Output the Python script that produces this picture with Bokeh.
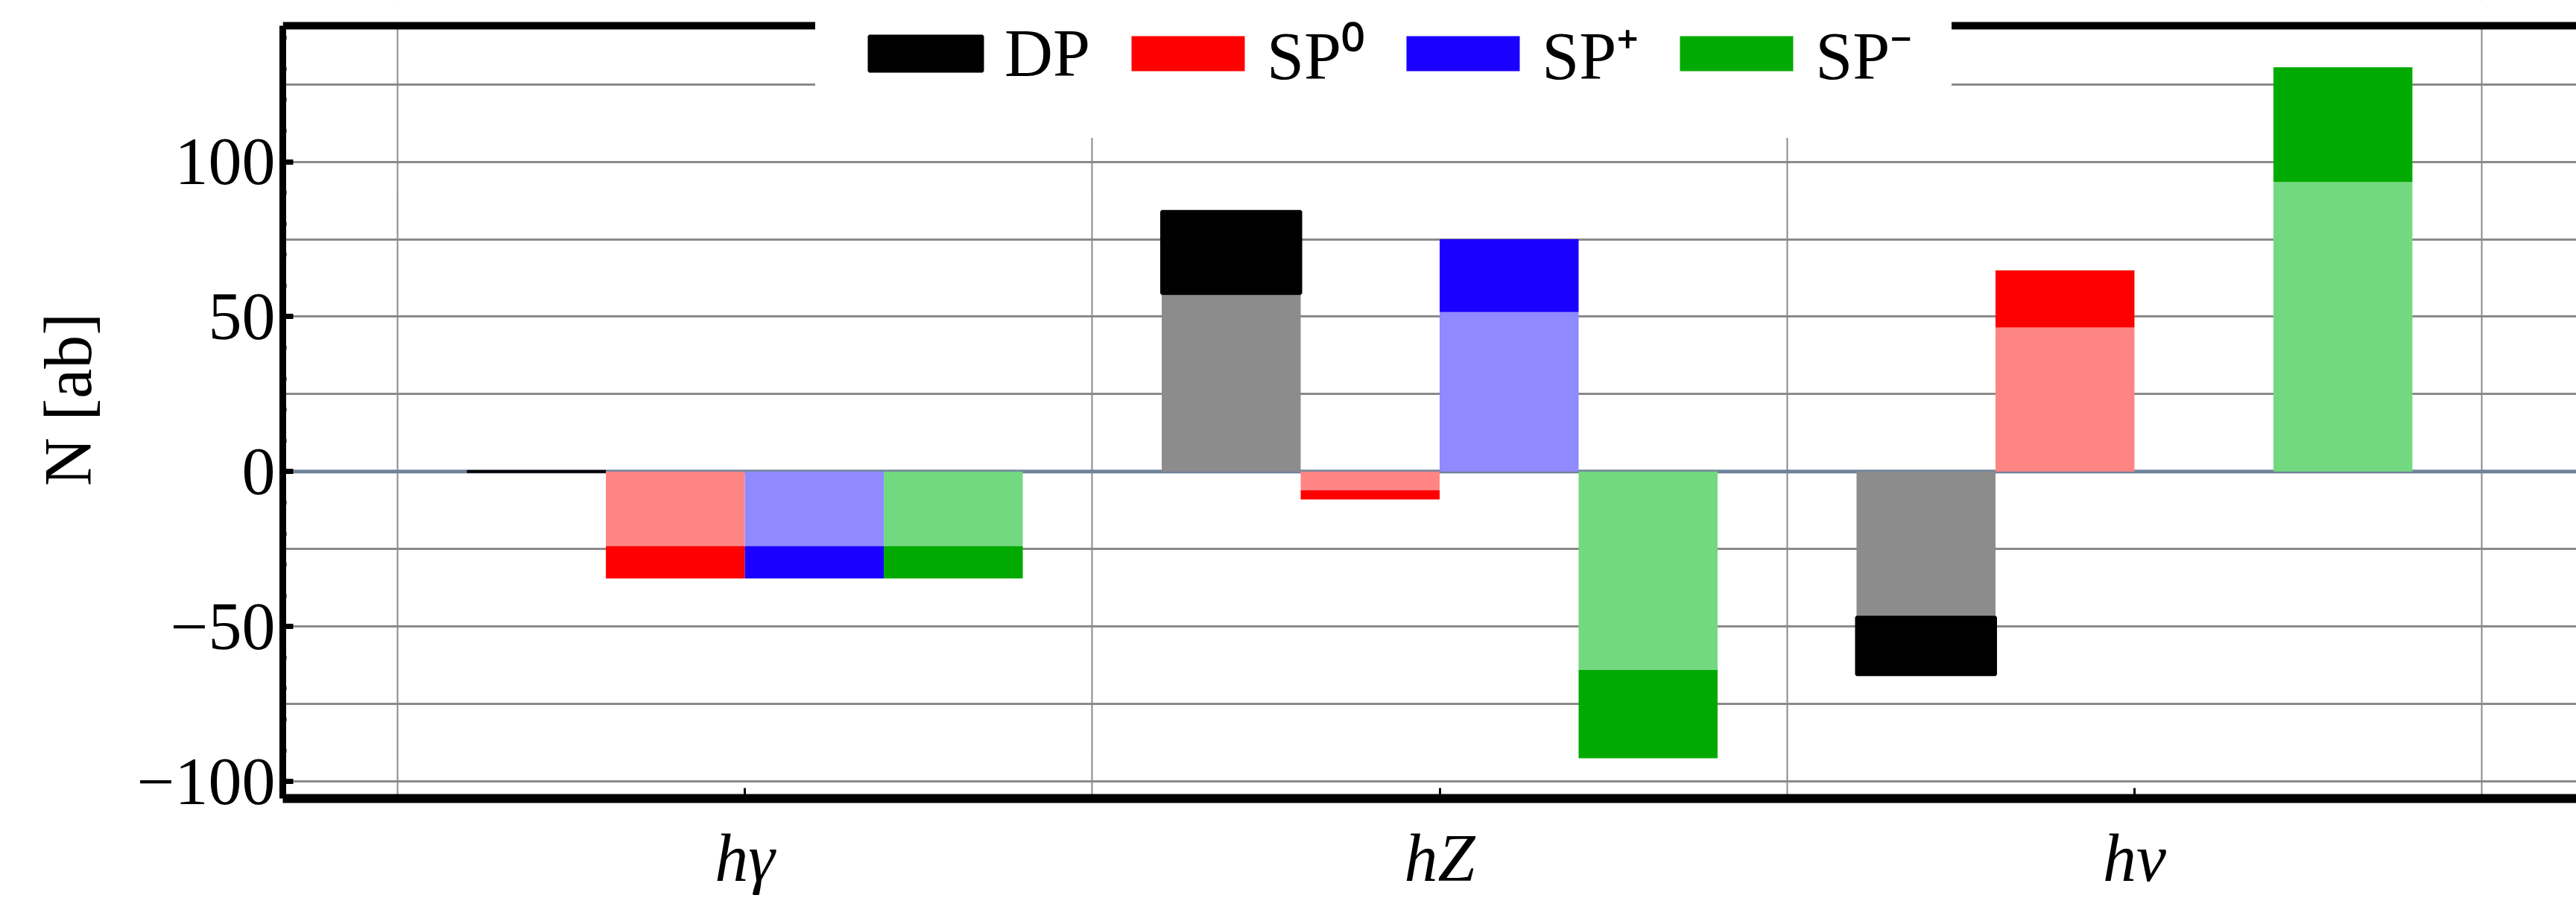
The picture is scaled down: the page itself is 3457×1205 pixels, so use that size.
from bokeh.plotting import figure
from bokeh.models import (Range1d, FixedTicker, SingleIntervalTicker,
                          Span, BoxAnnotation, Legend, LegendItem)
from bokeh.embed import file_html
from bokeh.resources import INLINE

# ---- data ----
categories = ["hγ", "hZ", "hν"]
series = ["DP", "SP⁰", "SP⁺", "SP⁻"]

dp_inner = [0, 57.5, -47]
dp_total = [0, 84, -65.5]
sp0_inner = [-24, -6, 46.5]
sp0_total = [-34.5, -9, 65]
spp_inner = [-24, 51.5, 0]
spp_total = [-34.5, 75, 0]
spm_inner = [-24, -64, 93.5]
spm_total = [-34.5, -92.5, 130.5]

inner_values = [dp_inner, sp0_inner, spp_inner, spm_inner]
total_values = [dp_total, sp0_total, spp_total, spm_total]

y_tick_labels = {-100: "−100", -50: "−50", 0: "0", 50: "50", 100: "100"}

# ---- styles / layout ----
dark_colors = ["#000000", "#ff0000", "#1a00ff", "#00aa00"]
light_colors = ["#8c8c8c", "#ff8585", "#8f8aff", "#73d980"]
offsets = [-0.3, -0.1, 0.1, 0.3]
bar_width = 0.2
FONT = "Liberation Serif"
Y_MIN, Y_FRAME_TOP, Y_CANVAS_TOP = -105.5, 143.9, 152.1

centers = list(range(1, len(categories) + 1))

p = figure(width=3457, height=1205,
           x_range=Range1d(0.335, 3.636), y_range=Range1d(Y_MIN, Y_CANVAS_TOP),
           output_backend="svg", toolbar_location=None,
           min_border_left=379, min_border_right=0,
           min_border_top=0, min_border_bottom=134)
p.outline_line_color = None
p.background_fill_color = "white"
p.border_fill_color = "white"

# grids
p.xgrid[0].ticker = FixedTicker(ticks=[c - 0.5 for c in centers] + [centers[-1] + 0.5])
p.xgrid[0].grid_line_color = "#8a8a8a"
p.xgrid[0].grid_line_width = 2
p.ygrid[0].ticker = SingleIntervalTicker(interval=25)
p.ygrid[0].grid_line_color = "#8a8a8a"
p.ygrid[0].grid_line_width = 3

zero = Span(location=0, dimension="width", line_color="#70839c", line_width=5, level="underlay")
p.add_layout(zero)

renderers = []
for i in range(len(series)):
    xs = [c + offsets[i] for c in centers]
    p.vbar(x=xs, width=bar_width, bottom=0, top=inner_values[i],
           fill_color=light_colors[i], line_color=None)
    r = p.vbar(x=xs, width=bar_width, bottom=inner_values[i], top=total_values[i],
               fill_color=dark_colors[i],
               line_color=dark_colors[i] if i == 0 else None, line_width=4)
    renderers.append(r)

# x axis
xa = p.xaxis[0]
xa.ticker = FixedTicker(ticks=centers)
xa.major_label_overrides = {c: lab for c, lab in zip(centers, categories)}
xa.major_label_text_font = FONT
xa.major_label_text_font_style = "italic"
xa.major_label_text_font_size = "90px"
xa.major_label_text_color = "black"
xa.major_label_standoff = 30
xa.axis_line_width = 12
xa.axis_line_color = "black"
xa.major_tick_in = 14
xa.major_tick_out = 0
xa.major_tick_line_width = 3
xa.minor_tick_line_color = None

# y axis
ya = p.yaxis[0]
ya.bounds = (Y_MIN, Y_FRAME_TOP)
ya.ticker = SingleIntervalTicker(interval=50, num_minor_ticks=5)
ya.major_label_overrides = y_tick_labels
ya.major_label_text_font = FONT
ya.major_label_text_font_size = "90px"
ya.major_label_text_color = "black"
ya.major_label_standoff = 10
ya.axis_line_width = 9
ya.axis_line_color = "black"
ya.major_tick_in = 14
ya.major_tick_out = 0
ya.major_tick_line_width = 7
ya.minor_tick_in = 5
ya.minor_tick_out = 0
ya.minor_tick_line_width = 5
ya.axis_label = "N [ab]"
ya.axis_label_text_font = FONT
ya.axis_label_text_font_style = "normal"
ya.axis_label_text_font_size = "90px"
ya.axis_label_text_color = "black"
ya.axis_label_standoff = 40

# blank strip above the frame line, then the frame line itself
p.add_layout(BoxAnnotation(bottom=Y_FRAME_TOP, fill_color="white", fill_alpha=1.0,
                           line_color=None))
p.add_layout(Span(location=Y_FRAME_TOP, dimension="width", line_color="black",
                  line_width=10))

legend = Legend(items=[LegendItem(label=s, renderers=[r]) for s, r in zip(series, renderers)],
                orientation="horizontal", location=(715, 886),
                glyph_width=190, glyph_height=59, label_height=55,
                label_text_font=FONT, label_text_font_size="90px",
                label_text_color="black",
                label_standoff=11, spacing=36, padding=50, margin=0,
                border_line_color="white", border_line_width=3,
                background_fill_color="white",
                background_fill_alpha=1.0)
p.add_layout(legend)

open("out.html", "w").write(file_html(p, INLINE))
